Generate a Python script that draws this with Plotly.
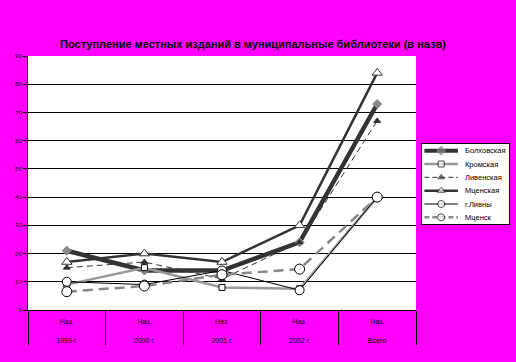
import plotly.graph_objects as go

categories = ["Наз.<br><br>1999 г.", "Наз.<br><br>2000 г.", "Наз.<br><br>2001 г.",
              "Наз.<br><br>2002 г.", "Наз.<br><br>Всего"]
bolkhov = [21, 14, 14, 24, 73]
krom = [9, 15, 8, 7.5, 40]
liven = [15, 17, 11, 24, 67]
mtsenskaya = [17, 20, 17, 30, 84]
livny = [10, 9, 14, 7, 40]
mtsensk = [6.5, 8.5, 12.5, 14.5, 40]

W, H = 516, 362
xs = list(range(len(categories)))

series = [
    dict(name="Болховская", vals=bolkhov, color="#333333", width=4.5, dash="solid",
         symbol="diamond", msize=7, mcolor="#888888", mline="#888888"),
    dict(name="Кромская", vals=krom, color="#999999", width=2.5, dash="solid",
         symbol="square", msize=6, mcolor="white", mline="#000000"),
    dict(name="Ливенская", vals=liven, color="#333333", width=1, dash="6px,4px",
         symbol="triangle-up", msize=6, mcolor="#333333", mline="#333333"),
    dict(name="Мценская", vals=mtsenskaya, color="#333333", width=2.5, dash="solid",
         symbol="triangle-up", msize=9, mcolor="white", mline="#333333"),
    dict(name="г.Ливны", vals=livny, color="#000000", width=1, dash="solid",
         symbol="circle", msize=9, mcolor="white", mline="#000000"),
    dict(name="Мценск", vals=mtsensk, color="#888888", width=2.5, dash="10px,6px",
         symbol="circle", msize=10, mcolor="white", mline="#000000"),
]

fig = go.Figure()

for s in series:
    fig.add_trace(go.Scatter(
        x=xs, y=s["vals"], name=s["name"], mode="lines+markers",
        line=dict(color=s["color"], width=s["width"], dash=s["dash"]),
        marker=dict(symbol=s["symbol"], size=s["msize"], color=s["mcolor"],
                    line=dict(color=s["mline"], width=1)),
        showlegend=False, xaxis="x", yaxis="y",
    ))

# legend drawn in a small boxed subplot
n = len(series)
for i, s in enumerate(series):
    ly = n - i - 0.5
    fig.add_trace(go.Scatter(
        x=[0.3, 2.4, 4.5], y=[ly] * 3, mode="lines+markers",
        line=dict(color=s["color"], width=min(s["width"], 4),
                  dash=s["dash"] if s["dash"] == "solid" else "5px,3px"),
        marker=dict(symbol=s["symbol"], size=[0, min(s["msize"], 7), 0],
                    color=s["mcolor"], line=dict(color=s["mline"], width=1)),
        showlegend=False, hoverinfo="skip", xaxis="x2", yaxis="y2",
    ))
    fig.add_annotation(x=5.1, y=ly, xref="x2", yref="y2", text=s["name"],
                       showarrow=False, xanchor="left", yanchor="middle",
                       font=dict(size=7.5, color="black"))

fig.update_layout(
    width=W, height=H,
    paper_bgcolor="#FF00FF", plot_bgcolor="white",
    margin=dict(l=0, r=0, t=0, b=0, autoexpand=False),
    font=dict(family="Liberation Sans, Arial, sans-serif", color="black", size=7),
    title=dict(text="<b>Поступление местных изданий в муниципальные библиотеки (в назв)</b>",
               font=dict(size=11, color="black"), x=253 / W, xanchor="center",
               y=1 - 44 / H, yanchor="middle", xref="container", yref="container"),
    showlegend=False,
    xaxis=dict(domain=[28 / W, 416 / W], range=[-0.5, 4.5], tickvals=xs,
               ticktext=categories, showgrid=False, zeroline=False, showline=True,
               linecolor="black", linewidth=1, ticks="", tickfont=dict(size=7),
               ticklabelstandoff=5, anchor="y",
               minor=dict(tick0=-0.5, dtick=1, ticks="outside", ticklen=34,
                          tickcolor="black", tickwidth=1, showgrid=False)),
    yaxis=dict(domain=[1 - 310 / H, 1 - 56 / H], range=[0, 90], dtick=10,
               showgrid=True, gridcolor="black", gridwidth=1, zeroline=False,
               showline=True, linecolor="black", linewidth=1, ticks="outside",
               ticklen=4, tickcolor="black", tickfont=dict(size=6), anchor="x"),
    xaxis2=dict(domain=[422 / W, 509 / W], range=[0, 10.9], showgrid=False,
                zeroline=False, showticklabels=False, ticks="", showline=True,
                mirror=True, linecolor="black", linewidth=1, anchor="y2",
                fixedrange=True),
    yaxis2=dict(domain=[1 - 224 / H, 1 - 144 / H], range=[0, n], showgrid=False,
                zeroline=False, showticklabels=False, ticks="", showline=True,
                mirror=True, linecolor="black", linewidth=1, anchor="x2",
                fixedrange=True),
)

fig.write_html("out.html", config={"displayModeBar": False},
               post_script="document.body.style.margin='0';document.body.style.overflow='hidden';")
